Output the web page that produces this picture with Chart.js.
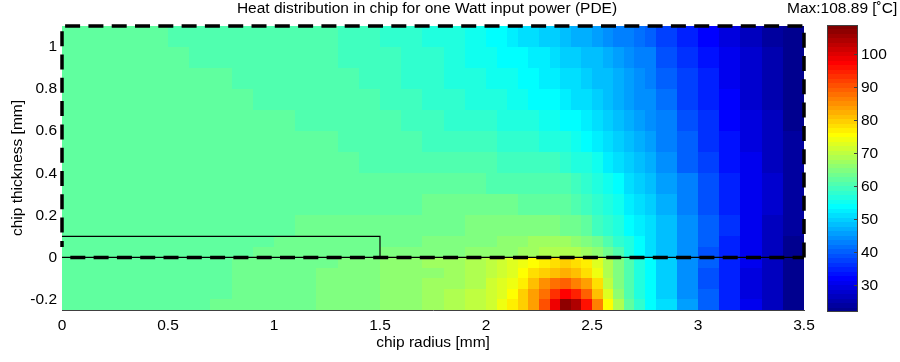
<!DOCTYPE html>
<html>
<head>
<meta charset="utf-8">
<script src="https://cdn.jsdelivr.net/npm/chart.js@4.4.1/dist/chart.umd.min.js"></script>
<style>
  html, body { margin: 0; padding: 0; background: #fff; }
  #wrap { position: relative; width: 900px; height: 362px; }
  #heat { position: absolute; left: 0; top: 0; }
  #bar { position: absolute; left: 800px; top: 0; }
</style>
</head>
<body>
<div id="wrap">
  <canvas id="heat" width="900" height="362"></canvas>
  <canvas id="bar" width="100" height="362"></canvas>
</div>
<script>
/* Heat distribution in chip (PDE result) — jet heatmap + colorbar */

// cell edges of the sampled field [mm]
const xEdges = [0, 0.1, 0.2, 0.3, 0.4, 0.5, 0.6, 0.7, 0.8, 0.9, 1.0, 1.1, 1.2, 1.3, 1.4, 1.5, 1.6, 1.7, 1.8, 1.9, 2.0,
  2.05, 2.1, 2.15, 2.2, 2.25, 2.3, 2.35, 2.4, 2.45, 2.5, 2.55, 2.6, 2.65, 2.7, 2.75, 2.8,
  2.9, 3.0, 3.1, 3.2, 3.3, 3.4, 3.5];
const yEdges = [-0.25, -0.2, -0.15, -0.1, -0.05, 0, 0.05, 0.1, 0.2, 0.3, 0.4, 0.5, 0.6, 0.7, 0.8, 0.9, 1.0, 1.1];

// temperature [°C] per cell, rows from bottom (y=-0.25) to top (y=1.1)
const temperature = [
  [61.6, 61.6, 61.7, 61.85, 62.0, 62.2, 62.45, 62.7, 63.0, 63.3, 63.6, 64.0, 64.4, 64.8, 65.3, 65.9, 66.6, 67.4, 68.5, 69.9,
   71.7, 73.7, 76.5, 79.5, 84.2, 91.2, 99.2, 106.5, 103.5, 95.7, 86.7, 76.2, 68.2, 62.2, 57.7, 54.5,
   50.7, 45.2, 39.7, 34.5, 30.1, 26.3, 22.9],
  [61.6, 61.6, 61.7, 61.82, 61.98, 62.15, 62.4, 62.65, 62.95, 63.25, 63.55, 63.9, 64.3, 64.7, 65.15, 65.7, 66.4, 67.2, 68.2, 69.6,
   71.5, 73.5, 75.9, 79.0, 83.2, 88.2, 93.7, 97.2, 95.2, 89.7, 81.2, 72.7, 66.2, 61.2, 57.2, 54.0,
   50.3, 45.0, 39.6, 34.4, 30.0, 26.2, 22.8],
  [61.6, 61.6, 61.68, 61.8, 61.95, 62.12, 62.35, 62.6, 62.9, 63.2, 63.5, 63.8, 64.2, 64.6, 65.05, 65.55, 66.2, 67.0, 67.9, 69.2,
   71.1, 72.7, 74.7, 77.4, 80.7, 84.7, 87.2, 88.7, 86.7, 83.7, 77.7, 70.7, 65.2, 60.7, 57.0, 53.9,
   50.2, 44.9, 39.5, 34.3, 29.9, 26.1, 22.7],
  [61.6, 61.6, 61.67, 61.78, 61.92, 62.1, 62.3, 62.55, 62.82, 63.12, 63.42, 63.72, 64.1, 64.5, 64.9, 65.4, 66.0, 66.7, 67.6, 68.7,
   70.5, 71.9, 73.5, 75.5, 77.9, 80.2, 81.7, 82.7, 81.7, 78.7, 74.2, 69.2, 64.5, 60.5, 57.0, 54.0,
   50.1, 44.8, 39.5, 34.3, 29.9, 26.1, 22.7],
  [61.6, 61.62, 61.66, 61.75, 61.88, 62.05, 62.25, 62.5, 62.85, 63.05, 63.35, 63.65, 64.0, 64.4, 65.0, 65.6, 66.3, 67.1, 68.0, 69.0,
   69.7, 71.0, 72.4, 73.7, 75.8, 77.3, 78.6, 79.2, 78.6, 76.5, 72.2, 68.2, 64.2, 60.7, 57.2, 54.2,
   50.2, 44.9, 39.6, 34.5, 30.1, 26.3, 22.9],
  [61.7, 61.75, 61.8, 61.85, 61.95, 62.05, 62.2, 62.35, 62.55, 62.8, 63.0, 63.25, 63.5, 63.7, 63.9, 64.1, 64.3, 64.6, 65.0, 65.5,
   65.9, 66.3, 66.7, 67.2, 67.7, 68.2, 68.7, 69.1, 68.7, 67.5, 65.5, 62.9, 60.0, 56.9, 53.7, 51.5,
   48.5, 44.2, 39.5, 34.9, 30.6, 26.7, 23.1],
  [61.8, 61.85, 61.9, 61.95, 62.0, 62.1, 62.2, 62.3, 62.45, 62.6, 62.75, 62.95, 63.15, 63.3, 63.5, 63.7, 63.9, 64.2, 64.5, 64.9,
   65.3, 65.6, 66.0, 66.4, 66.8, 67.2, 67.5, 67.3, 66.3, 64.7, 62.7, 60.5, 58.2, 55.9, 53.7, 51.6,
   48.6, 44.3, 39.6, 35.0, 30.7, 26.8, 23.2],
  [62.0, 62.0, 62.05, 62.1, 62.15, 62.2, 62.25, 62.3, 62.4, 62.5, 62.6, 62.75, 62.9, 63.05, 63.2, 63.4, 63.6, 63.8, 64.0, 64.2,
   64.4, 64.5, 64.6, 64.7, 64.7, 64.6, 64.3, 63.7, 62.7, 61.4, 59.8, 58.0, 56.1, 54.3, 52.5, 50.8,
   48.2, 44.2, 39.9, 35.5, 31.2, 27.3, 23.7],
  [62.1, 62.1, 62.1, 62.1, 62.1, 62.1, 62.1, 62.15, 62.2, 62.25, 62.3, 62.4, 62.45, 62.5, 62.55, 62.6, 62.65, 62.7, 62.7, 62.7,
   62.7, 62.7, 62.7, 62.65, 62.55, 62.4, 62.1, 61.6, 60.7, 59.5, 58.0, 56.3, 54.6, 52.9, 51.2, 49.6,
   47.1, 43.3, 39.3, 35.3, 31.3, 27.6, 23.9],
  [62.05, 62.05, 62.0, 61.98, 61.95, 61.92, 61.9, 61.9, 61.9, 61.9, 61.9, 61.9, 61.9, 61.85, 61.8, 61.75, 61.7, 61.6, 61.5, 61.4,
   61.3, 61.2, 61.1, 61.0, 60.9, 60.7, 60.5, 60.1, 59.3, 58.1, 56.6, 54.9, 53.3, 51.7, 50.1, 48.5,
   46.0, 42.3, 38.6, 34.8, 31.0, 27.5, 23.9],
  [62.0, 62.0, 61.95, 61.9, 61.85, 61.8, 61.78, 61.75, 61.7, 61.67, 61.63, 61.6, 61.52, 61.42, 61.28, 61.12, 60.95, 60.75, 60.55, 60.3,
   60.1, 59.9, 59.7, 59.5, 59.3, 59.05, 58.7, 58.1, 57.2, 56.0, 54.6, 53.1, 51.6, 50.0, 48.5, 46.9,
   43.7, 40.5, 37.2, 33.5, 30.1, 27.1, 23.9],
  [61.95, 61.95, 61.9, 61.85, 61.8, 61.75, 61.7, 61.67, 61.62, 61.56, 61.5, 61.44, 61.32, 61.12, 60.85, 60.55, 60.2, 59.8, 59.4, 59.0,
   58.6, 58.4, 58.1, 57.8, 57.5, 57.1, 56.6, 56.0, 55.3, 54.4, 52.9, 51.7, 50.3, 48.8, 47.3, 45.8,
   43.1, 39.7, 36.4, 33.0, 29.7, 26.7, 23.6],
  [61.9, 61.9, 61.85, 61.8, 61.75, 61.7, 61.65, 61.6, 61.5, 61.42, 61.32, 61.22, 61.05, 60.8, 60.45, 60.0, 59.55, 59.05, 58.55, 58.0,
   57.5, 57.2, 56.8, 56.4, 55.9, 55.4, 54.8, 54.1, 53.3, 52.4, 51.0, 49.7, 48.6, 47.4, 46.2, 44.9,
   42.3, 38.9, 35.6, 32.3, 29.1, 26.1, 23.2],
  [61.85, 61.85, 61.8, 61.75, 61.7, 61.65, 61.58, 61.45, 61.35, 61.25, 61.15, 61.05, 60.8, 60.5, 60.05, 59.55, 59.0, 58.4, 57.8, 57.1,
   56.5, 56.1, 55.6, 55.1, 54.5, 53.9, 53.3, 52.6, 51.8, 51.0, 49.7, 48.5, 47.4, 46.2, 45.0, 43.8,
   41.5, 38.1, 34.8, 31.6, 28.5, 25.7, 22.9],
  [61.8, 61.8, 61.75, 61.7, 61.65, 61.55, 61.45, 61.32, 61.22, 61.12, 61.02, 60.9, 60.6, 60.2, 59.7, 59.1, 58.5, 57.8, 57.1, 56.3,
   55.7, 55.2, 54.7, 54.1, 53.5, 52.8, 52.1, 51.3, 50.5, 49.7, 48.8, 47.9, 46.9, 45.8, 44.7, 43.5,
   40.5, 37.2, 34.2, 31.1, 28.1, 25.3, 22.6],
  [61.75, 61.75, 61.7, 61.65, 61.55, 61.42, 61.3, 61.2, 61.1, 61.0, 60.9, 60.75, 60.4, 59.9, 59.3, 58.7, 58.0, 57.3, 56.5, 55.7,
   55.0, 54.5, 53.9, 53.3, 52.7, 51.9, 51.2, 50.4, 49.6, 48.8, 47.9, 46.9, 45.8, 44.7, 43.5, 42.3,
   39.2, 35.9, 33.2, 30.5, 27.7, 24.9, 22.4],
  [61.7, 61.7, 61.65, 61.6, 61.45, 61.3, 61.2, 61.1, 61.0, 60.9, 60.8, 60.6, 60.2, 59.6, 59.0, 58.3, 57.6, 56.8, 55.9, 54.9,
   54.0, 53.3, 52.6, 51.8, 50.9, 50.0, 49.2, 48.4, 47.6, 46.7, 45.8, 44.7, 43.6, 42.5, 41.2, 39.9,
   37.7, 34.5, 32.2, 29.9, 27.3, 24.5, 22.3]
];

// chip geometry drawn on top [mm]
const boundaryPath = [{ x: 3.5, y: 0 }, { x: 3.5, y: 1.1 }, { x: 0, y: 1.1 }, { x: 0, y: 0.05 }];
const interfacePath = [{ x: 0, y: 0 }, { x: 3.5, y: 0 }];
const layerOutline = [{ x: 0, y: 0.1 }, { x: 1.5, y: 0.1 }, { x: 1.5, y: 0 }];

const xTicks = [0, 0.5, 1, 1.5, 2, 2.5, 3, 3.5];
const yTicks = [-0.2, 0, 0.2, 0.4, 0.6, 0.8, 1];
const cbTicks = [30, 40, 50, 60, 70, 80, 90, 100];
const cMin = 21.9;
const cMax = 108.89;

const FONT = '"Liberation Sans", Arial, Helvetica, sans-serif';
Chart.defaults.font.family = FONT;
Chart.defaults.font.size = 15.5;
Chart.defaults.color = '#000';

// MATLAB jet(64)
function jetIndex(v) {
  const k = Math.floor((v - cMin) / (cMax - cMin) * 64);
  return Math.max(0, Math.min(63, k));
}
function jetColor(k) {
  const t = (k + 1) / 64;
  const ch = a => Math.round(255 * Math.max(0, Math.min(1, 1.5 - Math.abs(4 * t - a))));
  return `rgb(${ch(3)},${ch(2)},${ch(1)})`;
}

const heatCells = {
  id: 'heatCells',
  beforeDatasetsDraw(chart) {
    const { ctx, scales: { x, y } } = chart;
    ctx.save();
    temperature.forEach((row, r) => {
      const yTop = Math.round(y.getPixelForValue(yEdges[r + 1]));
      const yBot = Math.round(y.getPixelForValue(yEdges[r]));
      row.forEach((v, c) => {
        const x0 = Math.round(x.getPixelForValue(xEdges[c]));
        const x1 = Math.round(x.getPixelForValue(xEdges[c + 1]));
        ctx.fillStyle = jetColor(jetIndex(v));
        ctx.fillRect(x0, yTop, x1 - x0, yBot - yTop);
      });
    });
    ctx.restore();
  },
  afterDraw(chart) {
    const ctx = chart.ctx;
    ctx.save();
    ctx.fillStyle = '#000';
    ctx.font = `15.5px ${FONT}`;
    ctx.textBaseline = 'middle';
    ctx.textAlign = 'center';
    ctx.fillText('Heat distribution in chip for one Watt input power (PDE)', 427, 9);
    ctx.textAlign = 'left';
    ctx.fillText('Max:' + cMax.toFixed(2) + ' [˚C]', 787, 9);
    ctx.restore();
  }
};

const lineSet = (data, width, dash, offset) => ({
  data, showLine: true, borderColor: '#000', borderWidth: width, borderDash: dash,
  borderDashOffset: offset || 0, pointRadius: 0, fill: false, clip: false, tension: 0,
});

new Chart(document.getElementById('heat'), {
  type: 'scatter',
  data: {
    datasets: [
      lineSet(layerOutline, 1.2, []),
      lineSet(interfacePath, 1.2, []),
      lineSet(interfacePath, 3.5, [15, 8.3], 15),
      lineSet(boundaryPath, 3.5, [15, 8.3]),
    ],
  },
  options: {
    responsive: false,
    animation: false,
    events: [],
    layout: { padding: { left: 0, right: 96, top: 26, bottom: 0 } },
    plugins: { legend: { display: false }, tooltip: { enabled: false } },
    scales: {
      x: {
        type: 'linear', min: 0, max: 3.5, z: 1,
        afterBuildTicks: s => { s.ticks = xTicks.map(v => ({ value: v })); },
        afterFit: s => { s.height = 52; },
        grid: { display: false, drawTicks: false },
        border: { display: true, color: '#404040', width: 1 },
        ticks: { padding: 6, maxRotation: 0, autoSkip: false, callback: v => String(v) },
        title: { display: true, text: 'chip radius [mm]', padding: { top: 0, bottom: 10 } },
      },
      y: {
        type: 'linear', min: -0.25, max: 1.1, z: 1,
        afterBuildTicks: s => { s.ticks = yTicks.map(v => ({ value: v })); },
        afterFit: s => { s.width = 62; },
        grid: { display: false, drawTicks: false },
        border: { display: true, color: '#404040', width: 1 },
        ticks: { padding: 5, autoSkip: false, callback: v => String(v) },
        title: { display: true, text: 'chip thickness [mm]', padding: { top: 8, bottom: 0 } },
      },
    },
  },
  plugins: [heatCells],
});

// colorbar
const colorbar = {
  id: 'colorbar',
  beforeDatasetsDraw(chart) {
    const { ctx, chartArea: a, scales: { y } } = chart;
    const w = (cMax - cMin) / 64;
    ctx.save();
    for (let k = 0; k < 64; k++) {
      const yTop = Math.round(y.getPixelForValue(cMin + (k + 1) * w));
      const yBot = Math.round(y.getPixelForValue(cMin + k * w));
      ctx.fillStyle = jetColor(k);
      ctx.fillRect(a.left, yTop, a.right - a.left, yBot - yTop);
    }
    ctx.strokeStyle = '#404040';
    ctx.lineWidth = 1;
    ctx.strokeRect(a.left + 0.5, a.top + 0.5, a.right - a.left - 1, a.bottom - a.top - 1);
    cbTicks.forEach(v => {
      const py = Math.round(y.getPixelForValue(v)) + 0.5;
      ctx.beginPath();
      ctx.moveTo(a.right - 4, py);
      ctx.lineTo(a.right, py);
      ctx.stroke();
    });
    ctx.restore();
  }
};

new Chart(document.getElementById('bar'), {
  type: 'scatter',
  data: { datasets: [] },
  options: {
    responsive: false,
    animation: false,
    events: [],
    layout: { padding: { left: 27, right: 0, top: 25, bottom: 50 } },
    plugins: { legend: { display: false }, tooltip: { enabled: false } },
    scales: {
      x: { display: false, min: 0, max: 1 },
      y: {
        position: 'right', min: cMin, max: cMax, z: 1,
        afterBuildTicks: s => { s.ticks = cbTicks.map(v => ({ value: v })); },
        afterFit: s => { s.width = 42; },
        grid: { display: false, drawTicks: false },
        border: { display: false },
        ticks: { padding: 3, autoSkip: false, callback: v => String(v) },
      },
    },
  },
  plugins: [colorbar],
});
</script>
</body>
</html>
